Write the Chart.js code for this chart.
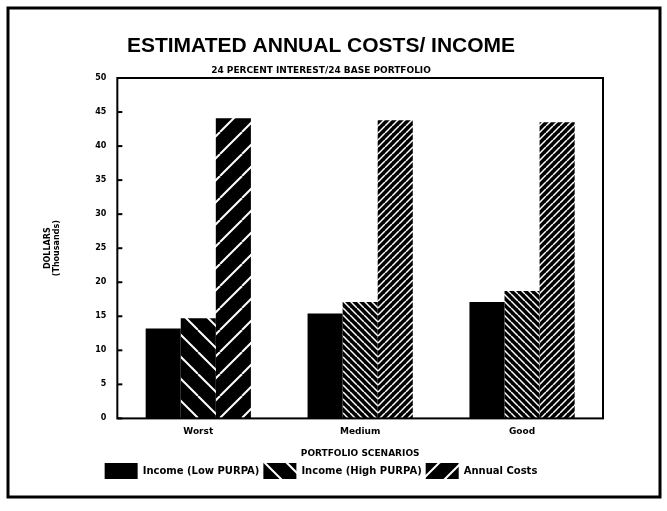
<!DOCTYPE html>
<html><head><meta charset="utf-8">
<script src="https://cdn.jsdelivr.net/npm/chart.js@4/dist/chart.umd.min.js"></script>
<style>html,body{margin:0;padding:0;background:#fff}#wrap{width:667px;height:511px;position:relative}</style>
</head><body><div id="wrap"><canvas id="c" width="667" height="511"></canvas></div>
<script>
const categories = ['Worst', 'Medium', 'Good'];
const incomeLow = [13.2, 15.4, 17.1];
const incomeHigh = [14.7, 17.1, 18.7];
const annualCosts = [44.1, 43.8, 43.5];
const yTicks = [0, 5, 10, 15, 20, 25, 30, 35, 40, 45, 50];
const seriesNames = ['Income (Low PURPA)', 'Income (High PURPA)', 'Annual Costs'];

function hatch(size, dir, lw) {
  const c = document.createElement('canvas');
  c.width = size; c.height = size;
  const g = c.getContext('2d');
  g.fillStyle = '#000'; g.fillRect(0, 0, size, size);
  g.strokeStyle = '#fff'; g.lineWidth = lw; g.lineCap = 'butt';
  for (let k = -1; k <= 1; k++) {
    g.beginPath();
    if (dir > 0) { g.moveTo(k * size, size); g.lineTo(k * size + size, 0); }
    else { g.moveTo(k * size, 0); g.lineTo(k * size + size, size); }
    g.stroke();
  }
  return document.getElementById('c').getContext('2d').createPattern(c, 'repeat');
}
const backSparse = hatch(22, -1, 2);
const fwdSparse = hatch(22, 1, 2);
const backDense = hatch(7, -1, 1.5);
const fwdDense = hatch(7, 1, 1.5);

const FONT = 'Liberation Sans';
const SMALL = 'DejaVu Sans';
const framePlugin = {
  id: 'frame',
  beforeDraw(chart) {
    const ctx = chart.ctx;
    ctx.save();
    ctx.fillStyle = '#fff';
    ctx.fillRect(0, 0, chart.width, chart.height);
    ctx.strokeStyle = '#000';
    ctx.lineWidth = 3;
    ctx.strokeRect(8, 8, 652, 489);
    ctx.restore();
  },
  afterDatasetsDraw(chart) {
    const ctx = chart.ctx, a = chart.chartArea, y = chart.scales.y;
    ctx.save();
    ctx.strokeStyle = '#000';
    ctx.lineWidth = 2;
    ctx.strokeRect(a.left, a.top, a.right - a.left, a.bottom - a.top);
    yTicks.forEach(v => {
      const py = y.getPixelForValue(v);
      ctx.beginPath(); ctx.moveTo(a.left, py); ctx.lineTo(a.left + 5, py); ctx.stroke();
    });
    ctx.restore();
  }
};

new Chart(document.getElementById('c'), {
  type: 'bar',
  data: {
    labels: categories,
    datasets: [
      { label: seriesNames[0], data: incomeLow, backgroundColor: '#000', borderWidth: 0 },
      { label: seriesNames[1], data: incomeHigh, backgroundColor: [backSparse, backDense, backDense], borderWidth: 0 },
      { label: seriesNames[2], data: annualCosts, backgroundColor: [fwdSparse, fwdDense, fwdDense], borderWidth: 0 }
    ]
  },
  options: {
    responsive: false,
    animation: false,
    layout: { padding: { left: 39, right: 64, top: 34, bottom: 22 } },
    datasets: { bar: { categoryPercentage: 0.65, barPercentage: 1.0 } },
    plugins: {
      title: { display: true, text: 'ESTIMATED ANNUAL COSTS/ INCOME', color: '#000',
        font: { family: FONT, size: 21, weight: 'bold' }, padding: { top: 0, bottom: 6 } },
      subtitle: { display: true, text: '24 PERCENT INTEREST/24 BASE PORTFOLIO', color: '#000',
        font: { family: SMALL, size: 9, weight: 'bold' }, padding: { top: 0, bottom: 2 } },
      legend: { position: 'bottom', labels: { color: '#000', boxWidth: 33, boxHeight: 16, padding: 4,
        font: { family: SMALL, size: 10, weight: 'bold' } } },
      tooltip: { enabled: false }
    },
    scales: {
      x: {
        grid: { display: false, drawTicks: false },
        border: { display: false },
        ticks: { color: '#000', padding: 8, font: { family: SMALL, size: 9, weight: 'bold' } },
        title: { display: true, text: 'PORTFOLIO SCENARIOS', color: '#000', padding: { top: 3, bottom: 0 },
          font: { family: SMALL, size: 9, weight: 'bold' } }
      },
      y: {
        min: 0, max: 50,
        afterBuildTicks(s) { s.ticks = yTicks.map(v => ({ value: v })); },
        grid: { display: false, drawTicks: false },
        border: { display: false },
        ticks: { color: '#000', padding: 11, font: { family: SMALL, size: 8, weight: 'bold' } },
        title: { display: true, text: ['DOLLARS', '(Thousands)'], color: '#000', padding: { bottom: 22 },
          font: { family: SMALL, size: 8, weight: 'bold' } }
      }
    }
  },
  plugins: [framePlugin]
});
</script>
</body></html>
